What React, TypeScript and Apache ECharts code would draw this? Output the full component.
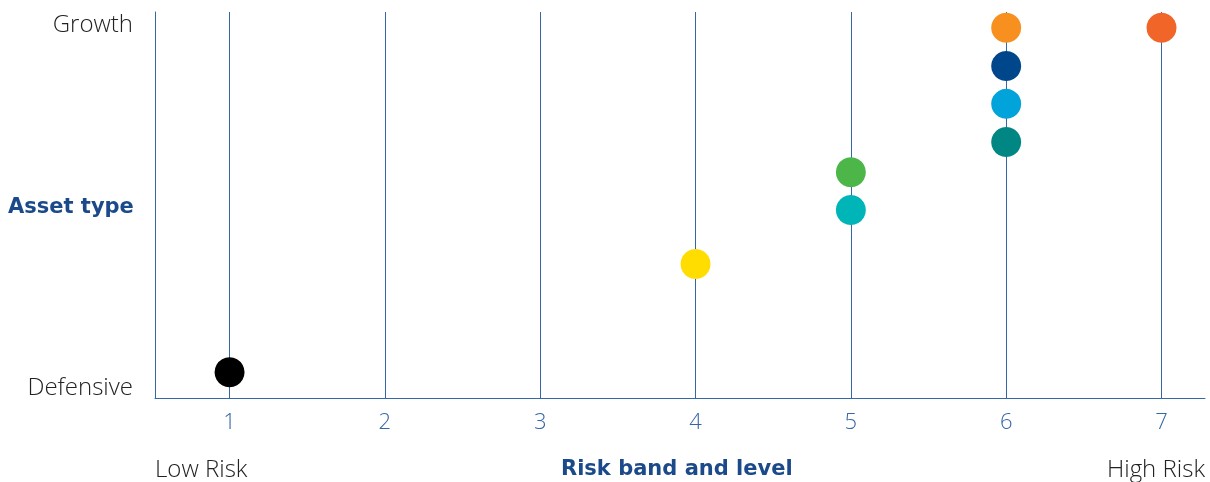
import React, { useEffect, useRef } from "react";
import * as echarts from "echarts";

const riskLevels = [1, 2, 3, 4, 5, 6, 7];
const pointRisk = [6, 7, 6, 6, 6, 5, 5, 4, 1];
const pointAsset = [95.9, 95.9, 86.0, 76.2, 66.3, 58.5, 48.7, 34.7, 6.7];
const pointColors = ["#f7901e", "#f26529", "#00468b", "#00a3da", "#008784", "#4cb748", "#00b5b8", "#ffdd00", "#000000"];
const yLabels = ["Defensive", "Growth"];

const BLUE = "#3566a6";
const FONT = "'Open Sans', 'Noto Sans', sans-serif";
const WIDE = "'DejaVu Sans', 'Open Sans', sans-serif";

export default function App() {
  const ref = useRef<HTMLDivElement>(null);
  useEffect(() => {
    if (!ref.current) return;
    const chart = echarts.init(ref.current, undefined, { renderer: "svg" });
    const data = pointRisk.map((r, i) => ({
      value: [r, pointAsset[i]],
      itemStyle: { color: pointColors[i], opacity: 1 },
    }));
    chart.setOption({
      animation: false,
      grid: { left: 155, right: 5, top: 12, bottom: 84 },
      xAxis: {
        type: "value",
        min: 0.52,
        max: 7.28,
        axisLine: { show: true, lineStyle: { color: BLUE, width: 1 } },
        axisTick: { show: false },
        splitLine: { show: false },
        axisLabel: {
          customValues: riskLevels,
          color: BLUE,
          fontFamily: FONT,
          fontSize: 22,
          fontWeight: 300,
          margin: 11,
        },
      },
      yAxis: {
        type: "value",
        min: 0,
        max: 100,
        axisLine: { show: true, lineStyle: { color: BLUE, width: 1 } },
        axisTick: { show: false },
        splitLine: { show: false },
        axisLabel: { show: false },
      },
      series: [
        {
          type: "line",
          data: [],
          silent: true,
          z: 1,
          markLine: {
            silent: true,
            symbol: "none",
            label: { show: false },
            lineStyle: { color: BLUE, width: 1, type: "solid" },
            data: riskLevels.map((r) => ({ xAxis: r })),
          },
        },
        {
          type: "scatter",
          symbolSize: 30,
          z: 5,
          itemStyle: { opacity: 1 },
          data,
        },
      ],
      graphic: [
        {
          type: "text",
          right: 1210 - 133,
          top: 10,
          style: { text: yLabels[1], fill: "#222", font: `300 24px ${FONT}`, textAlign: "right" },
        },
        {
          type: "text",
          right: 1210 - 133,
          top: 373,
          style: { text: yLabels[0], fill: "#222", font: `300 24px ${FONT}`, textAlign: "right" },
        },
        {
          type: "text",
          left: 8,
          top: 195,
          style: { text: "Asset type", fill: "#1a4a8a", font: `bold 21px ${WIDE}` },
        },
        {
          type: "text",
          left: 561,
          top: 457,
          style: { text: "Risk band and level", fill: "#1a4a8a", font: `bold 21px ${WIDE}` },
        },
        {
          type: "text",
          left: 155,
          top: 455,
          style: { text: "Low Risk", fill: "#222", font: `300 24px ${FONT}` },
        },
        {
          type: "text",
          right: 5,
          top: 455,
          style: { text: "High Risk", fill: "#222", font: `300 24px ${FONT}` },
        },
      ],
    });
    return () => chart.dispose();
  }, []);
  return (
    <div
      ref={ref}
      style={{ position: "fixed", left: 0, top: 0, width: 1210, height: 482 }}
    />
  );
}
